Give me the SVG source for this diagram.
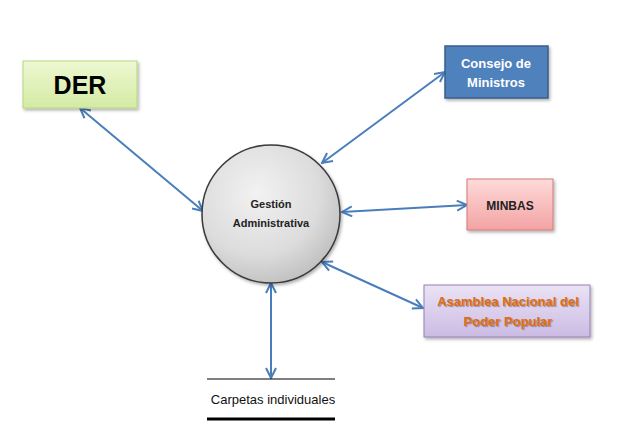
<svg xmlns="http://www.w3.org/2000/svg" width="630" height="446" viewBox="0 0 630 446">
<defs>
<linearGradient id="gGreen" x1="0" y1="0" x2="0" y2="1"><stop offset="0" stop-color="#eef8d2"/><stop offset="1" stop-color="#d3eba4"/></linearGradient>
<linearGradient id="gPink" x1="0" y1="0" x2="0" y2="1"><stop offset="0" stop-color="#ffdada"/><stop offset="1" stop-color="#f3a3a3"/></linearGradient>
<linearGradient id="gLav" x1="0" y1="0" x2="0" y2="1"><stop offset="0" stop-color="#ebe3f5"/><stop offset="1" stop-color="#cbbbe4"/></linearGradient>
<radialGradient id="gGray" cx="0.4" cy="0.35" r="0.75"><stop offset="0" stop-color="#f2f2f2"/><stop offset="0.6" stop-color="#dcdcdc"/><stop offset="1" stop-color="#b8b8b8"/></radialGradient>
<filter id="sh" x="-10%" y="-10%" width="125%" height="130%"><feDropShadow dx="1.5" dy="2" stdDeviation="1.5" flood-color="#000" flood-opacity="0.3"/></filter>
<marker id="ah" viewBox="0 0 12 12" refX="11" refY="6" markerWidth="12" markerHeight="12" markerUnits="userSpaceOnUse" orient="auto-start-reverse"><path d="M1,1 L11,6 L1,11" fill="none" stroke="#4a7ebb" stroke-width="2"/></marker>
</defs>
<style>
.t{font-family:"Liberation Sans",Arial,sans-serif;font-weight:bold;text-anchor:middle}
.c{stroke:#4a7ebb;stroke-width:2;fill:none;marker-start:url(#ah);marker-end:url(#ah)}
</style>
<rect width="630" height="446" fill="#fff"/>
<g id="connectors">
<line class="c" x1="80" y1="108" x2="203" y2="211"/>
<line class="c" x1="445" y1="72" x2="322" y2="163"/>
<line class="c" x1="467" y1="205" x2="342" y2="212"/>
<line class="c" x1="423" y1="308" x2="322" y2="262"/>
<line class="c" x1="271" y1="283" x2="271" y2="378"/>
</g>
<g id="der">
<rect x="23" y="61" width="114" height="47" fill="url(#gGreen)" stroke="#b9d57e" stroke-width="1" filter="url(#sh)"/>
<text class="t" x="80" y="94" font-size="25" fill="#000">DER</text>
</g>
<g id="consejo">
<rect x="445" y="46" width="103" height="52" fill="#4f81bd" stroke="#385d8a" stroke-width="1.5" filter="url(#sh)"/>
<text class="t" x="496" y="68" font-size="13" fill="#fff">Consejo de</text>
<text class="t" x="496" y="87" font-size="13" fill="#fff">Ministros</text>
</g>
<g id="minbas">
<rect x="467" y="179" width="86" height="51" fill="url(#gPink)" stroke="#d07a78" stroke-width="1" filter="url(#sh)"/>
<text class="t" x="510" y="210" font-size="12" fill="#222">MINBAS</text>
</g>
<g id="asamblea">
<rect x="424" y="285" width="166" height="52" fill="url(#gLav)" stroke="#9580b8" stroke-width="1" filter="url(#sh)"/>
<text class="t" x="508" y="306" font-size="13" fill="#e36c09" style="text-shadow:1px 1px 1px rgba(0,0,0,0.35)">Asamblea Nacional  del</text>
<text class="t" x="508" y="326" font-size="13" fill="#e36c09" style="text-shadow:1px 1px 1px rgba(0,0,0,0.35)">Poder Popular</text>
</g>
<g id="gestion">
<circle cx="271" cy="214" r="69" fill="url(#gGray)" stroke="#3a3a3a" stroke-width="1.5" filter="url(#sh)"/>
<text class="t" x="271" y="208" font-size="11" fill="#222">Gestión</text>
<text class="t" x="271" y="227" font-size="11" fill="#222">Administrativa</text>
</g>
<g id="carpetas">
<line x1="207" y1="379" x2="335" y2="379" stroke="#000" stroke-width="1.2"/>
<text x="273" y="404" font-family="'Liberation Sans',Arial,sans-serif" font-size="13" text-anchor="middle" fill="#111">Carpetas individuales</text>
<line x1="207" y1="419" x2="335" y2="419" stroke="#000" stroke-width="3"/>
</g>
</svg>
